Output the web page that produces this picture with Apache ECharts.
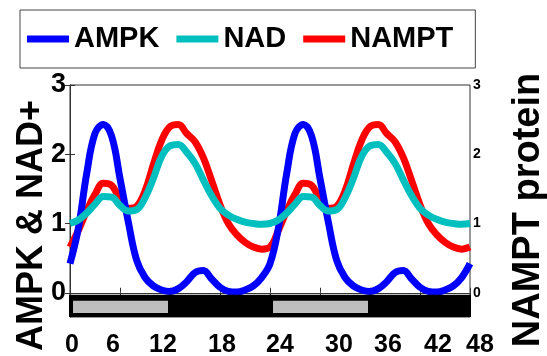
<!DOCTYPE html>
<html>
<head>
<meta charset="utf-8">
<script src="https://cdn.jsdelivr.net/npm/echarts@6/dist/echarts.min.js"></script>
<style>
html,body{margin:0;padding:0;background:#fff;}
#chart{width:547px;height:356px;}
</style>
</head>
<body>
<div id="chart"></div>
<script>
// ---- data ----
const hours = [0,1,2,3,4,5,6,7,8,9,10,11,12,13,14,15,16,17,18,19,20,21,22,23,
               24,25,26,27,28,29,30,31,32,33,34,35,36,37,38,39,40,41,42,43,44,45,46,47,48];
const ampk = [0.42,0.93,1.72,2.30,2.43,2.26,1.65,1.02,0.47,0.22,0.10,0.04,0.02,0.06,0.16,0.29,0.32,0.20,0.08,0.02,0.01,0.04,0.10,0.22,
              0.42,0.93,1.72,2.30,2.43,2.26,1.65,1.02,0.47,0.22,0.10,0.04,0.02,0.06,0.16,0.29,0.32,0.20,0.08,0.02,0.01,0.04,0.10,0.22,0.42];
const nad = [1.00,1.05,1.15,1.28,1.39,1.38,1.26,1.18,1.20,1.37,1.65,1.97,2.12,2.14,2.03,1.87,1.63,1.40,1.22,1.12,1.06,1.02,1.00,0.99,
             1.00,1.05,1.15,1.28,1.39,1.38,1.26,1.18,1.20,1.37,1.65,1.97,2.12,2.14,2.03,1.87,1.63,1.40,1.22,1.12,1.06,1.02,1.00,0.99,1.00];
const nampt = [0.66,0.90,1.18,1.42,1.58,1.55,1.35,1.22,1.25,1.47,1.85,2.20,2.40,2.43,2.30,2.18,1.95,1.62,1.27,1.00,0.84,0.73,0.66,0.63,
               0.66,0.90,1.18,1.42,1.58,1.55,1.35,1.22,1.25,1.47,1.85,2.20,2.40,2.43,2.30,2.18,1.95,1.62,1.27,1.00,0.84,0.73,0.66,0.63,0.66];
const periodStart = [0, 12, 24, 36];
const periodEnd   = [12, 24, 36, 48];
const periodLight = [1, 0, 1, 0];
const barTop = -0.03, barBottom = -0.35;
const xTicks = [0, 6, 12, 18, 24, 30, 36, 42, 48];
const yTicks = [0, 1, 2, 3];
const seriesNames = ['AMPK', 'NAD', 'NAMPT'];
const leftTitle = 'AMPK & NAD+';
const rightTitle = 'NAMPT protein';

const pair = (ys) => hours.map((h, i) => [h, ys[i]]);
const periods = periodStart.map((s, i) => [s, periodEnd[i], periodLight[i]]);

const FONT = "'Liberation Sans', Arial, Helvetica, sans-serif";
// horizontal nudges (px) of the bottom tick labels, as placed in the original figure
const xLabelNudge = [2, -7, -7, 2, 10, 19, 18, 18, 10];
const xRich = {};
xLabelNudge.forEach((d, i) => {
  xRich['t' + i] = {fontFamily: FONT, fontWeight: 'bold', fontSize: 25, color: '#000',
    padding: d >= 0 ? [0, 0, 0, 2 * d] : [0, -2 * d, 0, 0]};
});

const chart = echarts.init(document.getElementById('chart'), null, {renderer: 'canvas'});

const lineCommon = {
  type: 'line', showSymbol: false, smooth: 0.4, symbol: 'none', animation: false
};

chart.setOption({
  animation: false,
  backgroundColor: '#fff',
  legend: {
    data: seriesNames,
    left: 20, top: 10,
    orient: 'horizontal',
    icon: 'rect',
    itemWidth: 42, itemHeight: 7,
    itemGap: 17,
    padding: [14, 22, 14, 7],
    borderColor: '#444', borderWidth: 1,
    textStyle: {fontFamily: FONT, fontWeight: 'bold', fontSize: 29, color: '#000', lineHeight: 30},
    selectedMode: false
  },
  grid: {left: 70, right: 77, top: 85, bottom: 39, containLabel: false, outerBoundsMode: 'none',
    show: true, borderColor: '#333', borderWidth: 1, backgroundColor: 'transparent'},
  xAxis: [{
    type: 'value', min: 0, max: 48, interval: 6, position: 'bottom',
    axisLine: {show: true, lineStyle: {color: '#333'}},
    axisTick: {show: true, inside: true, length: 5, lineStyle: {color: '#333'}},
    splitLine: {show: false},
    axisLabel: {fontFamily: FONT, fontWeight: 'bold', fontSize: 25, color: '#000', margin: 16,
      customValues: xTicks,
      formatter: function (v) {
        const i = xTicks.indexOf(v);
        return i >= 0 ? '{t' + i + '|' + v + '}' : String(v);
      },
      rich: xRich}
  }, {
    type: 'value', min: 0, max: 48, interval: 6, position: 'top',
    axisLine: {show: true, lineStyle: {color: '#333'}},
    axisTick: {show: true, inside: true, length: 5, lineStyle: {color: '#333'}},
    splitLine: {show: false},
    axisLabel: {show: false}
  }],
  yAxis: [{
    type: 'value', min: -0.35, max: 3, position: 'left',
    name: leftTitle, nameLocation: 'middle', nameRotate: 90, nameGap: 20, nameMoveOverlap: false,
    nameTextStyle: {fontFamily: FONT, fontWeight: 'bold', fontSize: 36, color: '#000', padding: [0, 49, 0, 0]},
    axisLine: {show: true, lineStyle: {color: '#333'}},
    axisTick: {show: true, inside: true, length: 5, customValues: yTicks, lineStyle: {color: '#333'}},
    splitLine: {show: false},
    axisLabel: {fontFamily: FONT, fontWeight: 'bold', fontSize: 27, color: '#000', margin: 4, customValues: yTicks}
  }, {
    type: 'value', min: -0.35, max: 3, position: 'right',
    name: rightTitle, nameLocation: 'middle', nameRotate: 90, nameGap: 40, nameMoveOverlap: false,
    nameTextStyle: {fontFamily: FONT, fontWeight: 'bold', fontSize: 38, color: '#000', padding: [0, 18, 0, 0]},
    axisLine: {show: true, lineStyle: {color: '#333'}},
    axisTick: {show: true, inside: true, length: 5, customValues: yTicks, lineStyle: {color: '#333'}},
    splitLine: {show: false},
    axisLabel: {fontFamily: FONT, fontWeight: 'bold', fontSize: 14, color: '#000', margin: 3, customValues: yTicks}
  }],
  series: [
    Object.assign({}, lineCommon, {name: 'NAMPT', yAxisIndex: 1, data: pair(nampt), z: 2,
      color: '#ff0000', lineStyle: {color: '#ff0000', width: 7}}),
    Object.assign({}, lineCommon, {name: 'AMPK', yAxisIndex: 0, data: pair(ampk), z: 3,
      color: '#0000ff', lineStyle: {color: '#0000ff', width: 7}}),
    Object.assign({}, lineCommon, {name: 'NAD', yAxisIndex: 0, data: pair(nad), z: 4,
      color: '#00bfbf', lineStyle: {color: '#00bfbf', width: 7}}),
    {
      type: 'custom', name: 'lightdark', yAxisIndex: 0, z: 5, silent: true,
      data: periods,
      renderItem: function (params, api) {
        const s = api.value(0), e = api.value(1), light = api.value(2);
        const p0 = api.coord([s, barTop]);
        const p1 = api.coord([e, barBottom]);
        const children = [{
          type: 'rect',
          shape: {x: p0[0] - 1, y: p0[1], width: p1[0] - p0[0] + 2, height: p1[1] - p0[1]},
          style: {fill: '#000'}
        }];
        if (light) {
          children.push({
            type: 'rect',
            shape: {x: p0[0] + 3, y: p0[1] + 6, width: p1[0] - p0[0] - 5, height: p1[1] - p0[1] - 10},
            style: {fill: '#bebebe'}
          });
        }
        return {type: 'group', children: children};
      }
    }
  ]
});
</script>
</body>
</html>
